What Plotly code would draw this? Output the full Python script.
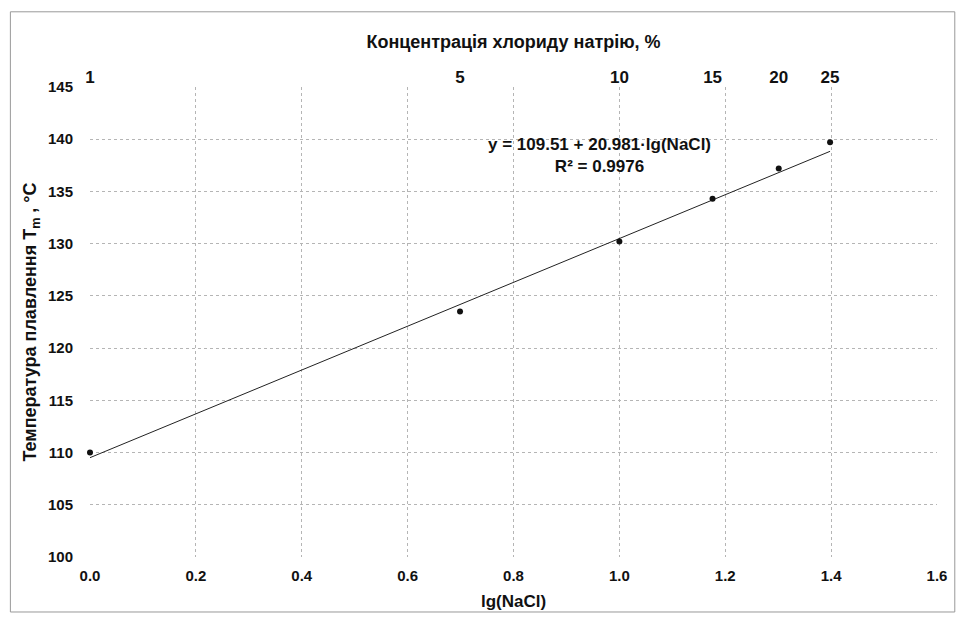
import numpy as np
import plotly.graph_objects as go

lg_nacl = [0.0, 0.699, 1.0, 1.176, 1.301, 1.398]
tm = [110.0, 123.5, 130.2, 134.3, 137.2, 139.7]
intercept = 109.51
slope = 20.981
conc_ticks = [1, 5, 10, 15, 20, 25]

fit_x = [0.0, 1.398]
fit_y = [intercept + slope * v for v in fit_x]

FONT = "Liberation Sans"

fig = go.Figure()
fig.add_trace(go.Scatter(x=fit_x, y=fit_y, mode="lines",
                         line=dict(color="#222222", width=1), showlegend=False))
fig.add_trace(go.Scatter(x=lg_nacl, y=tm, mode="markers", cliponaxis=False,
                         marker=dict(color="#111111", size=6), showlegend=False))
# dummy trace for top axis
fig.add_trace(go.Scatter(x=[0, 1.6], y=[100, 100], xaxis="x2", mode="markers",
                         marker=dict(opacity=0), showlegend=False, hoverinfo="skip"))

grid = dict(showgrid=True, gridcolor="#b5b5b5", griddash="dot", gridwidth=1,
            zeroline=False, showline=False, ticks="", automargin=False)

fig.update_layout(
    width=961, height=617,
    margin=dict(l=90, r=24, t=87, b=60),
    paper_bgcolor="white", plot_bgcolor="white",
    font=dict(family=FONT, size=15, color="#111111", weight="bold"),
    xaxis=dict(range=[0, 1.6], tickvals=[0, 0.2, 0.4, 0.6, 0.8, 1.0, 1.2, 1.4, 1.6],
               ticktext=["0.0", "0.2", "0.4", "0.6", "0.8", "1.0", "1.2", "1.4", "1.6"],
               ticklabelstandoff=8,
               title=dict(text="lg(NaCl)", standoff=12, font=dict(size=17, weight="bold")),
               **grid),
    xaxis2=dict(range=[0, 1.6], overlaying="x", side="top", automargin=False,
                tickvals=[np.log10(c) for c in conc_ticks],
                ticktext=[str(c) for c in conc_ticks],
                tickfont=dict(size=17, weight="bold"),
                showgrid=False, zeroline=False, showline=False, ticks="",
                title=dict(text="Концентрація хлориду натрію, %", standoff=14,
                           font=dict(size=18, weight="bold"))),
    yaxis=dict(range=[100, 145], dtick=5, ticklabelstandoff=16,
               title=dict(text="Температура плавлення T<sub>m</sub> , °C", standoff=6,
                          font=dict(size=18, weight="bold")),
               **grid),
)

fig.add_annotation(x=0.963, y=138.4, xref="x", yref="y",
                   text="y = 109.51 + 20.981·lg(NaCl)<br>R² = 0.9976",
                   showarrow=False, align="center",
                   font=dict(size=17, weight="bold", family=FONT))

fig.add_shape(type="rect", xref="paper", yref="paper", x0=-0.094, x1=1.021, y0=-0.117, y1=1.16,
              line=dict(color="#999999", width=1))

fig.write_html("out.html")
